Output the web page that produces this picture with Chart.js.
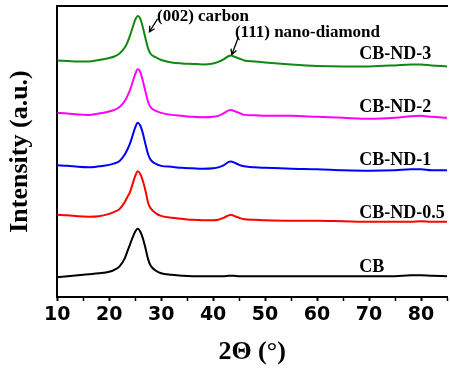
<!DOCTYPE html>
<html>
<head>
<meta charset="utf-8">
<script src="https://cdn.jsdelivr.net/npm/chart.js@4.4.1/dist/chart.umd.min.js"></script>
<style>
    html, body { margin: 0; padding: 0; background: #fff; }
    #wrap { width: 450px; height: 370px; }
</style>
</head>
<body>
<div id="wrap"><canvas id="xrdChart" width="450" height="370"></canvas></div>
<script>
// XRD PATTERNS (stacked, arbitrary intensity offsets)
const twoTheta = [10, 12, 14, 16, 18, 20, 21, 22, 23, 23.5, 24, 24.5, 25, 25.5, 26, 26.5, 27, 27.5, 28, 29, 30,
    32, 34, 36, 38, 40, 41, 42, 43, 43.5, 44, 45, 46, 48, 50, 55, 60, 65, 70, 75, 78, 80, 82, 85];

const cb = [20, 21, 22, 23, 24, 25.5, 27.5, 31, 39, 46, 53, 60, 66, 69, 66, 59, 49, 38, 31.5, 26.5, 24,
    22.5, 21.5, 21, 21, 21, 21, 21, 21.5, 21.5, 21.5, 21, 21, 21, 21, 21, 21, 21, 21, 21, 22, 22, 21.5, 21];

const cbNd05 = [83, 82.5, 81.5, 81, 81.5, 84, 86, 89, 96, 101, 106, 114, 122, 127, 124, 117, 107, 95, 89.5, 84.5, 82,
    80, 79, 78, 77.5, 77.5, 78, 80, 82.5, 83, 82, 80, 78.5, 78, 77.5, 77, 77, 76.5, 76, 76, 76, 76.5, 76, 76];

const cbNd1 = [133, 132.5, 131.5, 131, 132, 133.5, 135, 137.5, 144, 149, 155, 163, 171, 176, 173, 165, 154, 144, 138.5, 134.5, 132.5,
    131.5, 130.5, 130, 129.5, 130, 131, 133, 136.5, 137, 136, 133.5, 132, 131, 130.5, 129.5, 129, 128, 127.5, 128, 129, 129, 128, 128];

const cbNd2 = [186, 185.5, 184.5, 184, 185.5, 187.5, 189, 192, 198, 203, 209, 217, 225, 230, 227, 218, 207, 197, 191.5, 188, 186,
    184, 183, 182, 181.5, 182, 183, 185.5, 188.5, 189, 188, 186, 184, 183.5, 183, 183, 182, 181, 180, 181, 182.5, 183, 182, 181];

const cbNd3 = [239, 238.5, 238, 238, 239.5, 241.5, 243, 246, 252, 257, 264, 272, 280, 284, 281, 272, 261, 251, 245.5, 242, 239.5,
    237, 236, 235.5, 235, 236, 237.5, 240, 243.5, 244, 243, 241, 239, 238, 237, 235, 233.5, 233, 233, 234, 235, 235, 234, 233];

const sampleNames = ["CB", "CB-ND-0.5", "CB-ND-1", "CB-ND-2", "CB-ND-3"];
const xTickLabels = [10, 20, 30, 40, 50, 60, 70, 80];

function toPoints(ys) {
    return twoTheta.map((x, i) => ({ x: x, y: ys[i] }));
}

const colors = ["#000000", "#ff0000", "#0000ff", "#ff00ff", "#118811"];
const seriesList = [cb, cbNd05, cbNd1, cbNd2, cbNd3];

// Labels and peak annotations, placed in data coordinates
const annotate = {
    id: "annotate",
    afterDatasetsDraw(chart) {
        const { ctx, scales: { x, y } } = chart;
        ctx.save();
        ctx.fillStyle = "#000";
        ctx.textBaseline = "middle";
        ctx.textAlign = "left";

        // sample names at the right
        ctx.font = "bold 18px 'Liberation Serif', 'Times New Roman', serif";
        const nameY = [30, 85, 138, 192, 245];
        sampleNames.forEach((name, i) => {
            ctx.fillText(name, x.getPixelForValue(68.1), y.getPixelForValue(nameY[i]));
        });

        // peak labels
        ctx.font = "bold 17px 'Liberation Serif', 'Times New Roman', serif";
        ctx.fillText("(002) carbon", x.getPixelForValue(29.2), y.getPixelForValue(283));
        ctx.fillText("(111) nano-diamond", x.getPixelForValue(44.2), y.getPixelForValue(267));

        // arrows
        const arrows = [
            [29.3, 281, 27.75, 268],
            [44.9, 263, 43.6, 245]
        ];
        ctx.strokeStyle = "#000";
        ctx.lineWidth = 1.3;
        arrows.forEach(a => {
            const x1 = x.getPixelForValue(a[0]), y1 = y.getPixelForValue(a[1]);
            const x2 = x.getPixelForValue(a[2]), y2 = y.getPixelForValue(a[3]);
            const ang = Math.atan2(y2 - y1, x2 - x1);
            ctx.beginPath();
            ctx.moveTo(x1, y1);
            ctx.lineTo(x2, y2);
            ctx.moveTo(x2 - 6 * Math.cos(ang - 0.5), y2 - 6 * Math.sin(ang - 0.5));
            ctx.lineTo(x2, y2);
            ctx.lineTo(x2 - 6 * Math.cos(ang + 0.5), y2 - 6 * Math.sin(ang + 0.5));
            ctx.stroke();
        });
        ctx.restore();
    }
};

new Chart(document.getElementById("xrdChart"), {
    type: "line",
    data: {
        datasets: seriesList.map((s, i) => ({
            label: sampleNames[i],
            data: toPoints(s),
            borderColor: colors[i],
            borderWidth: 2,
            pointRadius: 0,
            fill: false,
            cubicInterpolationMode: "monotone"
        }))
    },
    options: {
        responsive: false,
        animation: false,
        layout: {
            padding: { left: 0, top: 6, right: 0, bottom: 0 }
        },
        plugins: {
            legend: { display: false },
            tooltip: { enabled: false }
        },
        scales: {
            x: {
                type: "linear",
                position: "bottom",
                min: 10,
                max: 85,
                border: { display: true, color: "#000", width: 2 },
                grid: {
                    drawOnChartArea: false,
                    drawTicks: true,
                    tickLength: 4,
                    tickColor: "#000",
                    tickWidth: c => (c.tick && c.tick.value % 10 === 0 ? 2 : 1.5)
                },
                ticks: {
                    stepSize: 5,
                    autoSkip: false,
                    maxRotation: 0,
                    padding: 3,
                    color: "#000",
                    font: { family: "'DejaVu Sans', Arial, sans-serif", size: 19, weight: "bold" },
                    callback: v => (xTickLabels.includes(v) ? v : "")
                },
                title: {
                    display: true,
                    text: "2Θ (°)",
                    color: "#000",
                    font: { family: "'Liberation Serif', 'Times New Roman', serif", size: 26, weight: "bold" },
                    padding: { top: 7, bottom: 2 }
                }
            },
            x2: {
                type: "linear",
                position: "top",
                min: 10,
                max: 85,
                border: { display: true, color: "#000", width: 2 },
                grid: { display: false, drawTicks: false },
                ticks: { display: false }
            },
            y: {
                min: 0,
                max: 294,
                border: { display: true, color: "#000", width: 2 },
                grid: { display: false, drawTicks: false },
                ticks: { display: false },
                title: {
                    display: true,
                    text: "Intensity (a.u.)",
                    color: "#000",
                    font: { family: "'Liberation Serif', 'Times New Roman', serif", size: 26, weight: "bold" },
                    padding: { top: 5, bottom: 21 }
                }
            }
        }
    },
    plugins: [annotate]
});
</script>
</body>
</html>
